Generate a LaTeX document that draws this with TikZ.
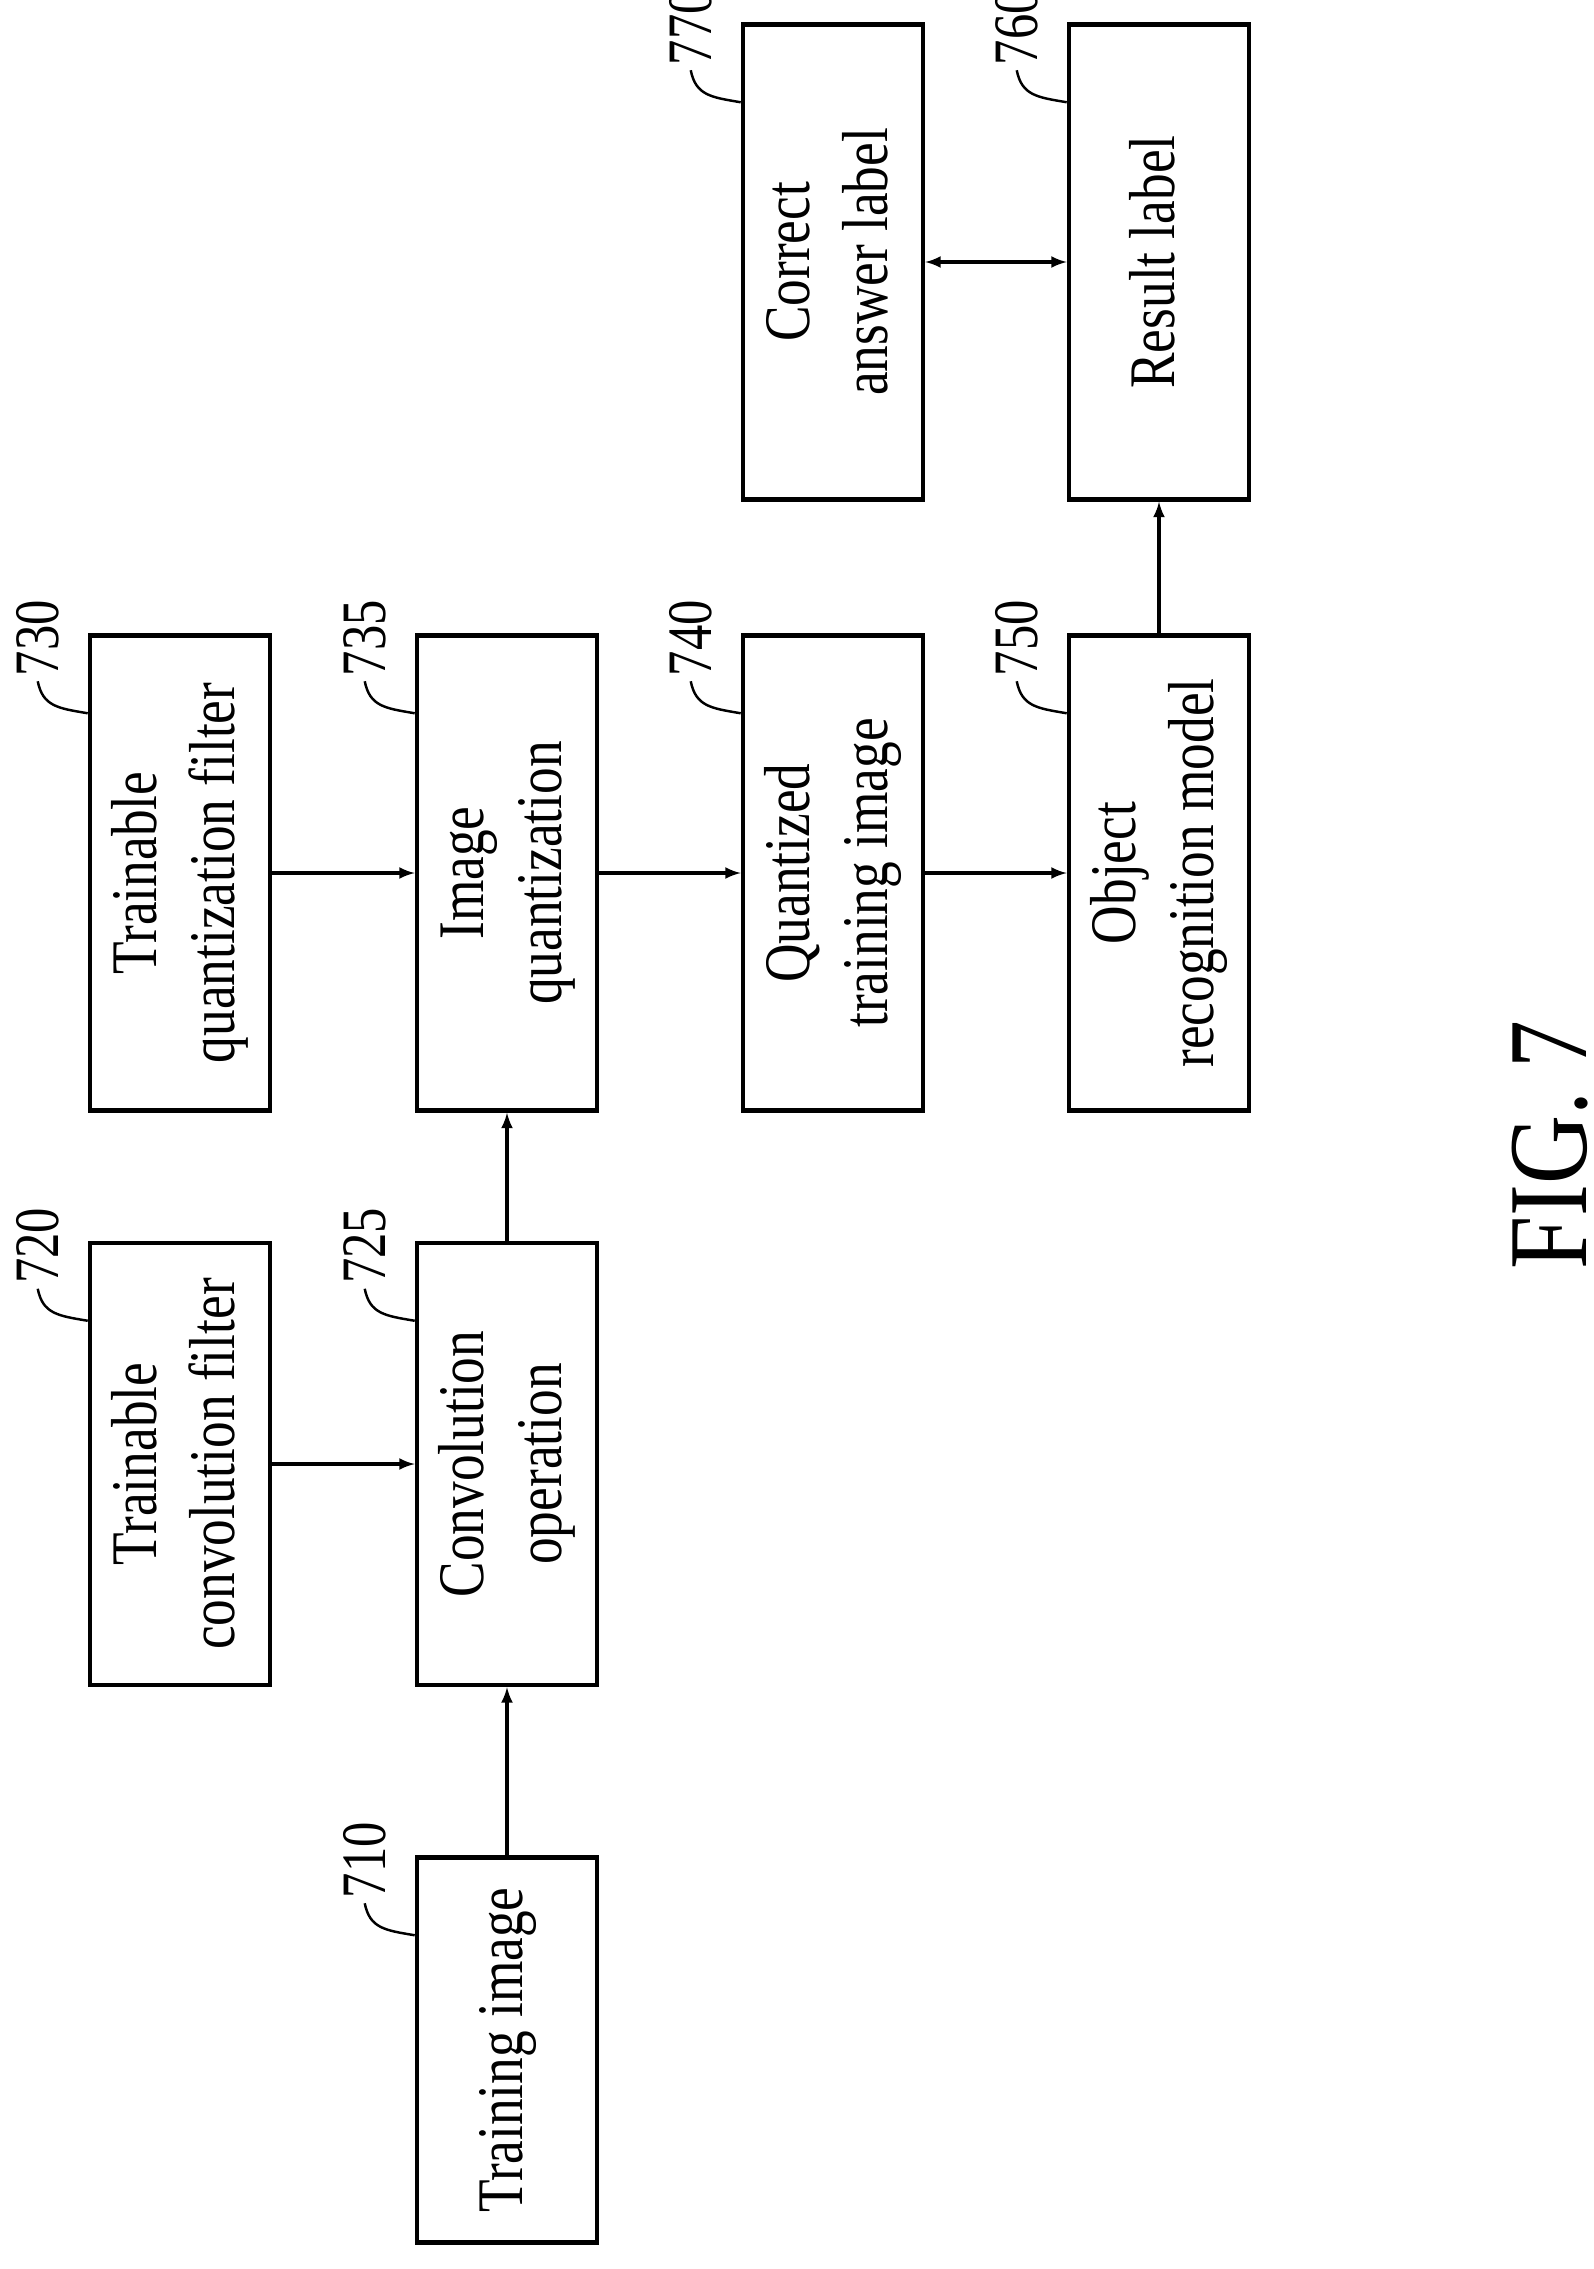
\documentclass[tikz,border=0pt]{standalone}
\usepackage{fontspec}
\setmainfont{Liberation Serif}
\usetikzlibrary{arrows}
\newcommand{\sqz}[1]{\scalebox{0.82}[1]{\begin{tabular}{@{}c@{}}#1\end{tabular}}}
\begin{document}
\begin{tikzpicture}[x=0.02cm,y=-0.02cm,
  box/.style={draw,line width=2.6pt,minimum width=9.5cm,minimum height=3.6cm,rotate=90,inner sep=0pt,font=\fontsize{37}{44}\selectfont},
  sbox/.style={box,minimum width=7.7cm},
  num/.style={rotate=90,font=\fontsize{36}{36}\selectfont},
  arr/.style={-latex,line width=2pt}]
\useasboundingbox (0,0) rectangle (1594,2269);
\node[sbox] (TI) at (507,2050) {\sqz{Training image}};
\node[box,minimum width=8.84cm] (TCF) at (180,1464) {\sqz{Trainable\\convolution filter}};
\node[box,minimum width=8.84cm] (CO) at (507,1464) {\sqz{Convolution\\operation}};
\node[box] (TQF) at (180,873) {\sqz{Trainable\\quantization filter}};
\node[box] (IQ) at (507,873) {\sqz{Image\\quantization}};
\node[box] (QTI) at (833,873) {\sqz{Quantized\\training image}};
\node[box] (ORM) at (1159,873) {\sqz{Object\\recognition model}};
\node[box] (CAL) at (833,262) {\sqz{Correct\\answer label}};
\node[box] (RL) at (1159,262) {\sqz{Result label}};

\draw[arr] (TI)--(CO);
\draw[arr] (TCF)--(CO);
\draw[arr] (CO)--(IQ);
\draw[arr] (TQF)--(IQ);
\draw[arr] (IQ)--(QTI);
\draw[arr] (QTI)--(ORM);
\draw[arr] (ORM)--(RL);
\draw[latex-latex,line width=2pt] (CAL)--(RL);

% reference numerals
\foreach \b/\n in {TI/710,TCF/720,CO/725,TQF/730,IQ/735,QTI/740,ORM/750,CAL/770,RL/760}{
  \draw[line width=1.4pt] ([yshift=-1.6cm]\b.north east) coordinate (e\n)
    .. controls +(-30,-5) and +(5,25) .. ++(-50,-32) coordinate (s\n);
  \node[num] (l\n) at ([xshift=-1.0cm,yshift=-0.1cm]\b.north east) {\scalebox{0.8}[1]{\n}};
}
\node[rotate=90,font=\fontsize{64}{64}\selectfont] (fig) at (1550,1145) {\scalebox{0.85}[1]{FIG. 7}};
\end{tikzpicture}
\end{document}
